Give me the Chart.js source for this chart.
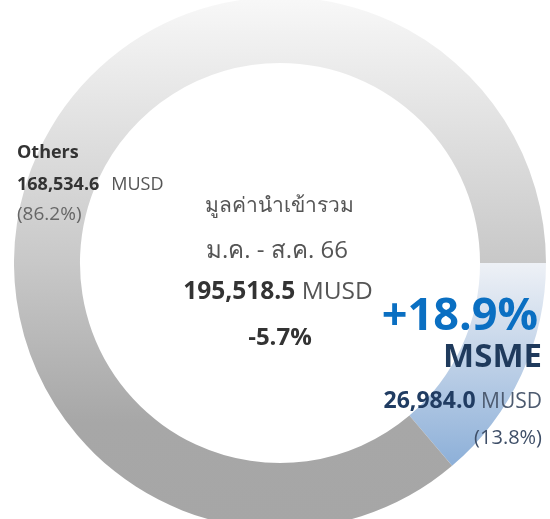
<!DOCTYPE html>
<html>
<head>
<meta charset="utf-8">
<script src="https://cdn.jsdelivr.net/npm/chart.js@4"></script>
<style>
  html, body { margin: 0; padding: 0; background: #fff; overflow: hidden; width: 550px; height: 519px; }
  #wrap { position: absolute; left: 14px; top: -3px; width: 532px; height: 532px; }
  .lbl { position: absolute; white-space: nowrap; font-family: "Open Sans", "Noto Sans", sans-serif; }
  .b { font-weight: 700; }
</style>
</head>
<body>
<div id="wrap"><canvas id="donut"></canvas></div>
<div id="labels"></div>
<script>
// ข้อมูลมูลค่านำเข้า ม.ค. - ส.ค. 66 (MUSD)
const segmentLabels = ['MSME', 'Others'];
const segmentValues = [26984.0, 168534.6];
const segmentShares = ['13.8%', '86.2%'];
const totalTitle = ['มูลค่านำเข้ารวม', 'ม.ค. - ส.ค. 66'];
const totalValue = 195518.5;
const totalGrowth = '-5.7%';
const msmeGrowth = '+18.9%';
const unit = 'MUSD';

const fmt = v => v.toLocaleString('en-US', { minimumFractionDigits: 1, maximumFractionDigits: 1 });

function sliceColor(ctx) {
  const chart = ctx.chart;
  const area = chart.chartArea;
  if (!area) return '#ccc';
  const c = chart.ctx;
  const cy = (area.top + area.bottom) / 2;
  const r = (area.bottom - area.top) / 2;
  if (ctx.dataIndex === 0) {
    const g = c.createLinearGradient(0, cy, 0, cy + r * 0.77);
    g.addColorStop(0, '#eef1f6');
    g.addColorStop(1, '#8cafd8');
    return g;
  }
  const g = c.createLinearGradient(0, cy - r, 0, cy + r);
  g.addColorStop(0, '#f8f8f8');
  g.addColorStop(0.5, '#c8c8c8');
  g.addColorStop(0.8, '#a7a7a7');
  g.addColorStop(1, '#a6a6a6');
  return g;
}

new Chart(document.getElementById('donut'), {
  type: 'doughnut',
  data: {
    labels: segmentLabels,
    datasets: [{
      data: segmentValues,
      backgroundColor: sliceColor,
      borderWidth: 0
    }]
  },
  options: {
    responsive: true,
    maintainAspectRatio: false,
    animation: false,
    rotation: 90,
    cutout: '75.2%',
    layout: { padding: 0 },
    plugins: {
      legend: { display: false },
      tooltip: { enabled: false }
    }
  }
});

// ป้ายข้อความ (HTML) วางตาม baseline
const box = document.getElementById('labels');
function place(parts, x, baseline, size, align) {
  const d = document.createElement('div');
  d.className = 'lbl';
  d.style.fontSize = size + 'px';
  d.style.lineHeight = size + 'px';
  d.style.top = (baseline - 0.888 * size) + 'px';
  if (align === 'right') {
    d.style.right = (550 - x) + 'px';
  } else if (align === 'center') {
    d.style.left = (x - 200) + 'px';
    d.style.width = '400px';
    d.style.textAlign = 'center';
  } else {
    d.style.left = x + 'px';
  }
  parts.forEach(p => {
    const s = document.createElement('span');
    s.textContent = p.t;
    if (p.b) s.className = 'b';
    s.style.color = p.c;
    if (p.ml) s.style.marginLeft = p.ml + 'px';
    if (p.fs) s.style.fontSize = p.fs + 'px';
    d.appendChild(s);
  });
  box.appendChild(d);
}

// Others
place([{ t: segmentLabels[1], b: true, c: '#333' }], 17, 158, 18);
place([{ t: fmt(segmentValues[1]), b: true, c: '#333' }, { t: unit, c: '#555', ml: 12 }], 17, 190, 18);
place([{ t: '(' + segmentShares[1] + ')', c: '#666' }], 17, 221, 19);

// กลางวง
place([{ t: totalTitle[0], c: '#555' }], 279, 213, 21, 'center');
place([{ t: totalTitle[1], c: '#555' }], 277, 258, 24, 'center');
place([{ t: fmt(totalValue), b: true, c: '#333' }, { t: ' ' + unit, c: '#555' }], 278, 300, 24.5, 'center');
place([{ t: totalGrowth, b: true, c: '#333' }], 280, 345, 24, 'center');

// MSME
place([{ t: msmeGrowth, b: true, c: '#0a6fc2' }], 538, 330, 45, 'right');
place([{ t: segmentLabels[0], b: true, c: '#1f3a5c' }], 542, 367, 33, 'right');
place([{ t: fmt(segmentValues[0]), b: true, c: '#203c62' }, { t: ' ' + unit, c: '#4d5b70', fs: 21 }], 542, 408, 23, 'right');
place([{ t: '(' + segmentShares[0] + ')', c: '#3f4f68' }], 542, 445, 20, 'right');
</script>
</body>
</html>
